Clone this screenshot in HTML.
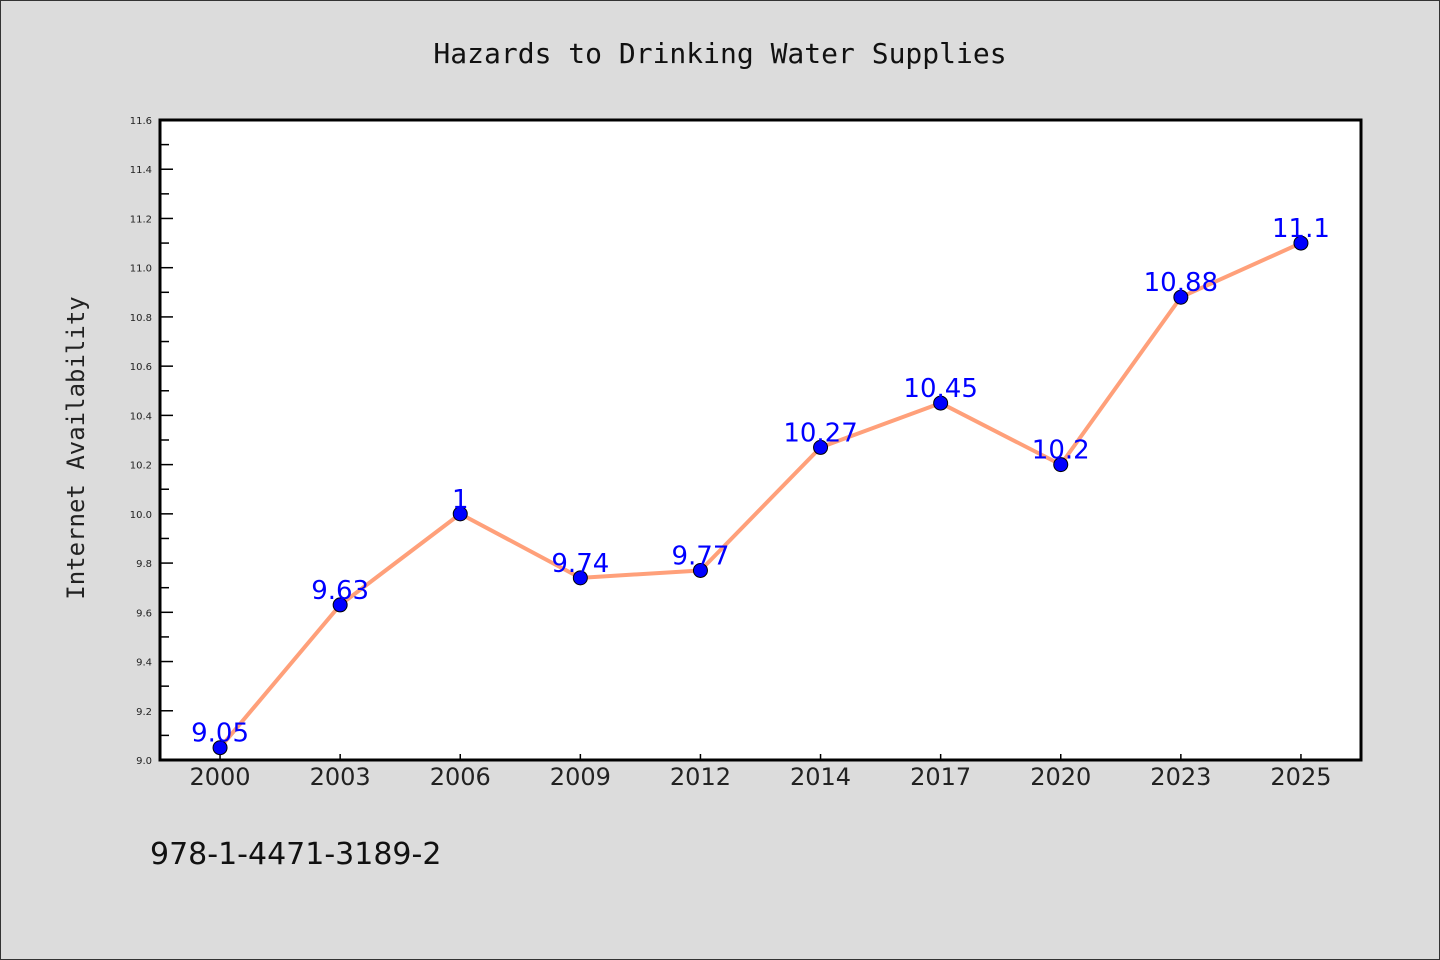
<!DOCTYPE html>
<html><head><meta charset="utf-8"><style>
html,body{margin:0;padding:0;background:#dcdcdc;}
svg{display:block;}
</style></head><body>
<svg width="1440" height="960" xmlns="http://www.w3.org/2000/svg" id="chart">
<rect x="0.5" y="0.5" width="1439" height="959" fill="#dcdcdc" stroke="#333"/>
<text x="720" y="63" text-anchor="middle" font-family="'DejaVu Sans Mono','Liberation Mono',monospace" font-size="28" fill="#111">Hazards to Drinking Water Supplies</text>
<rect x="160" y="120" width="1201" height="640" fill="#fff"/>
<g id="axes"></g>
<g id="series"></g>
<rect x="160" y="120" width="1201" height="640" fill="none" stroke="#000" stroke-width="3"/>
<text transform="translate(84,448) rotate(-90)" text-anchor="middle" font-family="'DejaVu Sans Mono','Liberation Mono',monospace" font-size="24" fill="#222">Internet Availability</text>
<text x="150" y="864" font-family="'DejaVu Sans','Liberation Sans',sans-serif" font-size="30" fill="#111">978-1-4471-3189-2</text>
</svg>
<script>
const categories = ["2000","2003","2006","2009","2012","2014","2017","2020","2023","2025"];
const values = [9.05,9.63,10.0,9.74,9.77,10.27,10.45,10.2,10.88,11.1];
const valueLabels = ["9.05","9.63","1","9.74","9.77","10.27","10.45","10.2","10.88","11.1"];
const yTicks = [9.0,9.2,9.4,9.6,9.8,10.0,10.2,10.4,10.6,10.8,11.0,11.2,11.4,11.6];
const yMin = 9.0, yMax = 11.6;
const L=160,R=1361,T=120,B=760;
const ns="http://www.w3.org/2000/svg";
const step=(R-L)/categories.length;
function xPos(i){return L+step*(i+0.5);}
function yPos(v){return B-(v-yMin)/(yMax-yMin)*(B-T);}
function mk(tag,attrs,parent){const e=document.createElementNS(ns,tag);for(const k in attrs)e.setAttribute(k,attrs[k]);parent.appendChild(e);return e;}
const axes=document.getElementById('axes'), ser=document.getElementById('series');
yTicks.forEach((t,i)=>{
  const y=yPos(t);
  const tk=mk('line',{x1:L,x2:L+13,y1:y,y2:y,stroke:'#000','stroke-width':1.5},axes);
  
  
  const lb=mk('text',{x:152,y:y+4,'text-anchor':'end','font-family':"'DejaVu Sans','Liberation Sans',sans-serif",'font-size':10,fill:'#222'},axes);
  lb.textContent=t.toFixed(1);
  
  
  if(i<yTicks.length-1){
    const ym=yPos(t+0.1);
    const mt=mk('line',{x1:L,x2:L+9,y1:ym,y2:ym,stroke:'#000','stroke-width':1.5},axes);
    
    
  }
});
categories.forEach((c,i)=>{
  const x=xPos(i);
  const tk=mk('line',{x1:x,x2:x,y1:B,y2:B-6,stroke:'#000','stroke-width':1.5},axes);
  
  
  const lb=mk('text',{x:x,y:785,'text-anchor':'middle','font-family':"'DejaVu Sans','Liberation Sans',sans-serif",'font-size':24,fill:'#222'},axes);
  lb.textContent=c;
  
  
});
const pts=values.map((v,i)=>xPos(i)+','+yPos(v)).join(' ');
const line=mk('polyline',{points:pts,fill:'none',stroke:'#ffa07a','stroke-width':4,'stroke-linejoin':'round'},ser);


values.forEach((v,i)=>{
  const c=mk('circle',{cx:xPos(i),cy:yPos(v),r:7,fill:'#0000ff',stroke:'#000','stroke-width':1},ser);
  
  
});
values.forEach((v,i)=>{
  const t=mk('text',{x:xPos(i),y:yPos(v)-6,'text-anchor':'middle','font-family':"'DejaVu Sans','Liberation Sans',sans-serif",'font-size':26,fill:'#0000ff'},ser);
  t.textContent=valueLabels[i];
  
  
});
</script>
</body></html>
